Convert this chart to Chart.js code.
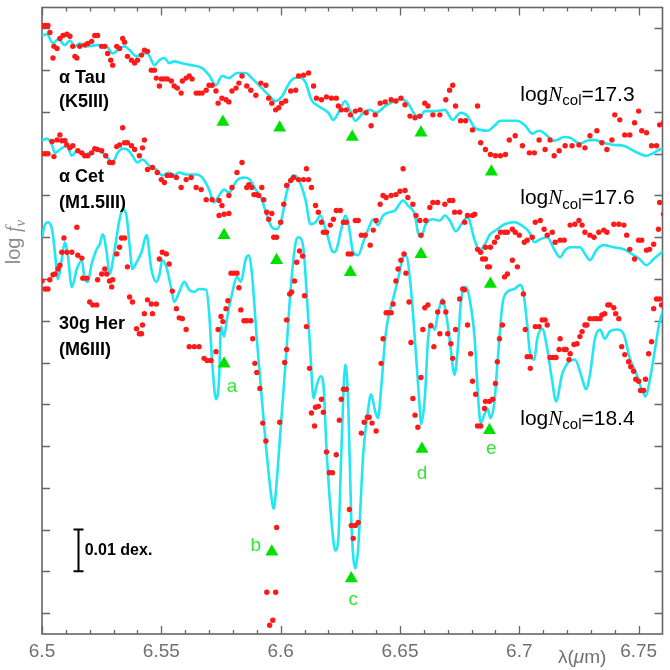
<!DOCTYPE html>
<html>
<head>
<meta charset="utf-8">
<title>6.5 - 6.76 micron spectra</title>
<script src="https://cdn.jsdelivr.net/npm/chart.js@4.4.1/dist/chart.umd.min.js"></script>
<style>
  html, body { margin: 0; padding: 0; background: #fff; }
  #wrap { width: 670px; height: 670px; }
</style>
</head>
<body>
<div id="wrap"><canvas id="spectra"></canvas></div>
<script>
// Axis ticks (wavelength in micron, log f_nu in dex with arbitrary zero)
const xMajorTicks = [6.5, 6.55, 6.6, 6.65, 6.7, 6.75];
const xTickLabels = ['6.5', '6.55', '6.6', '6.65', '6.7', '6.75'];
const yTicks = [0, 0.01, 0.02, 0.03, 0.04, 0.05, 0.06, 0.07, 0.08, 0.09, 0.10, 0.11, 0.12, 0.13, 0.14];

// alpha Tau : observed points and model
const tauObs = [
  [6.5000,0.1407],[6.5013,0.1407],[6.5025,0.1407],[6.5033,0.1390],[6.5046,0.1329],[6.5050,0.1357],[6.5063,0.1352],
  [6.5075,0.1376],[6.5088,0.1383],[6.5104,0.1386],[6.5117,0.1381],[6.5129,0.1357],[6.5138,0.1333],[6.5146,0.1329],
  [6.5158,0.1357],[6.5179,0.1360],[6.5192,0.1364],[6.5208,0.1369],[6.5221,0.1383],[6.5233,0.1383],[6.5250,0.1357],
  [6.5263,0.1357],[6.5275,0.1340],[6.5288,0.1324],[6.5296,0.1312],[6.5313,0.1357],[6.5325,0.1352],[6.5338,0.1376],
  [6.5346,0.1367],[6.5358,0.1333],[6.5375,0.1324],[6.5388,0.1317],[6.5400,0.1324],[6.5417,0.1336],[6.5429,0.1348],
  [6.5442,0.1345],[6.5458,0.1300],[6.5471,0.1300],[6.5479,0.1281],[6.5492,0.1262],[6.5500,0.1279],[6.5513,0.1279],
  [6.5525,0.1279],[6.5542,0.1274],[6.5554,0.1262],[6.5567,0.1257],[6.5583,0.1245],[6.5588,0.1274],[6.5604,0.1281],
  [6.5617,0.1286],[6.5629,0.1279],[6.5646,0.1245],[6.5658,0.1245],[6.5671,0.1245],[6.5688,0.1252],[6.5700,0.1264],
  [6.5713,0.1264],[6.5729,0.1250],[6.5738,0.1221],[6.5754,0.1233],[6.5771,0.1229],[6.5783,0.1224],[6.5796,0.1250],
  [6.5813,0.1257],[6.5825,0.1269],[6.5838,0.1286],[6.5858,0.1262],[6.5875,0.1252],[6.5896,0.1240],[6.5917,0.1269],
  [6.5938,0.1264],[6.5950,0.1233],[6.5963,0.1221],[6.5979,0.1205],[6.5992,0.1210],[6.6004,0.1221],[6.6021,0.1226],
  [6.6042,0.1250],[6.6063,0.1252],[6.6075,0.1286],[6.6096,0.1288],[6.6117,0.1293],[6.6138,0.1262],[6.6150,0.1233],
  [6.6171,0.1229],[6.6192,0.1236],[6.6213,0.1233],[6.6233,0.1233],[6.6242,0.1214],[6.6254,0.1205],[6.6275,0.1205],
  [6.6292,0.1193],[6.6313,0.1202],[6.6333,0.1205],[6.6358,0.1198],[6.6379,0.1167],[6.6396,0.1193],[6.6417,0.1221],
  [6.6438,0.1224],[6.6463,0.1229],[6.6483,0.1226],[6.6504,0.1233],[6.6521,0.1217],[6.6542,0.1190],[6.6563,0.1186],
  [6.6583,0.1190],[6.6604,0.1221],[6.6617,0.1214],[6.6638,0.1193],[6.6667,0.1193],[6.6692,0.1229],[6.6708,0.1252],
  [6.6721,0.1264],[6.6733,0.1214],[6.6754,0.1179],[6.6775,0.1179],[6.6804,0.1157],[6.6825,0.1214],[6.6838,0.1126],
  [6.6858,0.1110],[6.6879,0.1098],[6.6900,0.1095],[6.6921,0.1095],[6.6942,0.1098],[6.6958,0.1133],[6.6983,0.1143],
  [6.7013,0.1119],[6.7042,0.1102],[6.7063,0.1102],[6.7083,0.1133],[6.7108,0.1110],[6.7129,0.1133],[6.7146,0.1095],
  [6.7167,0.1107],[6.7192,0.1119],[6.7221,0.1119],[6.7250,0.1121],[6.7275,0.1114],[6.7296,0.1143],[6.7325,0.1155],
  [6.7346,0.1126],[6.7367,0.1110],[6.7388,0.1133],[6.7400,0.1193],[6.7421,0.1181],[6.7442,0.1145],[6.7463,0.1145],
  [6.7483,0.1174],[6.7500,0.1202],[6.7513,0.1155],[6.7533,0.1150],[6.7554,0.1119],[6.7575,0.1119],[6.7588,0.1169],
  [6.7604,0.1174]
];
const tauModel = [
  [6.5000,0.1383],[6.5021,0.1386],[6.5046,0.1364],[6.5067,0.1374],[6.5096,0.1360],[6.5117,0.1371],[6.5138,0.1357],
  [6.5158,0.1364],[6.5188,0.1357],[6.5229,0.1360],[6.5271,0.1357],[6.5296,0.1340],[6.5317,0.1348],[6.5346,0.1357],
  [6.5367,0.1348],[6.5396,0.1333],[6.5421,0.1340],[6.5442,0.1340],[6.5471,0.1312],[6.5492,0.1324],[6.5513,0.1329],
  [6.5533,0.1317],[6.5554,0.1321],[6.5583,0.1317],[6.5625,0.1312],[6.5671,0.1305],[6.5700,0.1288],[6.5729,0.1264],
  [6.5754,0.1286],[6.5783,0.1281],[6.5817,0.1293],[6.5854,0.1293],[6.5879,0.1281],[6.5921,0.1257],[6.5950,0.1240],
  [6.5979,0.1226],[6.6004,0.1236],[6.6042,0.1274],[6.6075,0.1283],[6.6104,0.1271],[6.6129,0.1229],[6.6158,0.1214],
  [6.6200,0.1198],[6.6221,0.1181],[6.6242,0.1198],[6.6271,0.1226],[6.6292,0.1202],[6.6313,0.1179],[6.6346,0.1198],
  [6.6375,0.1205],[6.6400,0.1198],[6.6438,0.1214],[6.6479,0.1226],[6.6504,0.1231],[6.6533,0.1221],[6.6563,0.1193],
  [6.6583,0.1186],[6.6604,0.1202],[6.6646,0.1202],[6.6688,0.1205],[6.6721,0.1181],[6.6754,0.1198],[6.6783,0.1190],
  [6.6813,0.1162],[6.6838,0.1157],[6.6867,0.1155],[6.6896,0.1167],[6.6921,0.1179],[6.6950,0.1179],[6.6992,0.1179],
  [6.7025,0.1167],[6.7054,0.1148],[6.7083,0.1155],[6.7117,0.1143],[6.7138,0.1131],[6.7158,0.1133],[6.7188,0.1140],
  [6.7213,0.1138],[6.7254,0.1124],[6.7283,0.1131],[6.7313,0.1133],[6.7354,0.1126],[6.7396,0.1121],[6.7438,0.1119],
  [6.7479,0.1107],[6.7533,0.1095],[6.7563,0.1102],[6.7588,0.1110],[6.7604,0.1112]
];
const tauMarks = [[6.5758,0.1176],[6.5996,0.1162],[6.6300,0.1140],[6.6588,0.1150],[6.6883,0.1057]];

// alpha Cet : observed points and model
const cetObs = [
  [6.5000,0.1100],[6.5013,0.1100],[6.5025,0.1100],[6.5042,0.1129],[6.5050,0.1093],[6.5063,0.1133],[6.5075,0.1145],
  [6.5083,0.1131],[6.5096,0.1131],[6.5104,0.1121],[6.5117,0.1114],[6.5129,0.1119],[6.5150,0.1107],[6.5167,0.1102],
  [6.5179,0.1095],[6.5192,0.1095],[6.5208,0.1102],[6.5221,0.1112],[6.5233,0.1110],[6.5250,0.1107],[6.5267,0.1095],
  [6.5283,0.1079],[6.5296,0.1079],[6.5313,0.1117],[6.5325,0.1121],[6.5338,0.1162],[6.5346,0.1126],[6.5358,0.1126],
  [6.5375,0.1119],[6.5388,0.1110],[6.5408,0.1095],[6.5421,0.1114],[6.5429,0.1133],[6.5442,0.1062],[6.5463,0.1067],
  [6.5483,0.1055],[6.5500,0.1038],[6.5513,0.1031],[6.5525,0.1048],[6.5542,0.1048],[6.5563,0.1043],[6.5583,0.1019],
  [6.5604,0.1038],[6.5625,0.1043],[6.5646,0.1019],[6.5667,0.1014],[6.5688,0.0990],[6.5713,0.0990],[6.5742,0.0988],
  [6.5742,0.0952],[6.5754,0.0976],[6.5763,0.0955],[6.5783,0.1000],[6.5783,0.0957],[6.5796,0.1019],[6.5817,0.1055],
  [6.5838,0.1079],[6.5858,0.1019],[6.5867,0.1026],[6.5879,0.1019],[6.5888,0.1002],[6.5900,0.1002],[6.5908,0.1000],
  [6.5921,0.1019],[6.5929,0.0990],[6.5942,0.0960],[6.5950,0.0943],[6.5963,0.0957],[6.5971,0.0900],[6.5983,0.0900],
  [6.6000,0.0936],[6.6013,0.0979],[6.6025,0.1024],[6.6042,0.1036],[6.6054,0.1043],[6.6075,0.1038],[6.6096,0.1038],
  [6.6108,0.1064],[6.6117,0.1038],[6.6129,0.1019],[6.6146,0.0976],[6.6158,0.0960],[6.6171,0.0936],[6.6179,0.0912],
  [6.6192,0.0912],[6.6208,0.0929],[6.6221,0.0943],[6.6233,0.0964],[6.6250,0.0964],[6.6263,0.0936],[6.6275,0.0936],
  [6.6283,0.0860],[6.6296,0.0860],[6.6313,0.0940],[6.6325,0.0940],[6.6338,0.0905],[6.6354,0.0905],[6.6375,0.0881],
  [6.6388,0.0917],[6.6400,0.0940],[6.6417,0.0979],[6.6429,0.1000],[6.6442,0.0995],[6.6463,0.1000],[6.6483,0.1002],
  [6.6500,0.1010],[6.6513,0.1064],[6.6521,0.1012],[6.6533,0.0995],[6.6554,0.0979],[6.6567,0.0952],[6.6583,0.0940],
  [6.6588,0.0905],[6.6608,0.0940],[6.6625,0.0971],[6.6638,0.0983],[6.6658,0.0983],[6.6688,0.0979],[6.6708,0.0988],
  [6.6721,0.0988],[6.6729,0.0960],[6.6750,0.0960],[6.6771,0.0936],[6.6783,0.0952],[6.6804,0.0952],[6.6813,0.0955],
  [6.6825,0.0871],[6.6838,0.0864],[6.6846,0.0848],[6.6858,0.0848],[6.6858,0.0876],[6.6867,0.0829],[6.6875,0.0829],
  [6.6879,0.0876],[6.6896,0.0888],[6.6908,0.0900],[6.6921,0.0912],[6.6938,0.0805],[6.6938,0.0912],[6.6950,0.0812],
  [6.6950,0.0912],[6.6971,0.0845],[6.6971,0.0919],[6.6983,0.0912],[6.6992,0.0829],[6.7000,0.0905],[6.7021,0.0888],
  [6.7033,0.0893],[6.7054,0.0900],[6.7067,0.0936],[6.7088,0.0940],[6.7104,0.0919],[6.7117,0.0905],[6.7138,0.0912],
  [6.7150,0.0888],[6.7171,0.0893],[6.7188,0.0893],[6.7213,0.0929],[6.7233,0.0931],[6.7250,0.0940],[6.7263,0.0929],
  [6.7275,0.0912],[6.7296,0.0905],[6.7313,0.0900],[6.7333,0.0912],[6.7354,0.0917],[6.7367,0.0912],[6.7396,0.0931],
  [6.7417,0.0931],[6.7438,0.0929],[6.7450,0.0905],[6.7463,0.0871],[6.7483,0.0848],[6.7500,0.0893],[6.7513,0.0893],
  [6.7533,0.0869],[6.7546,0.0871],[6.7563,0.0883],[6.7583,0.0919],[6.7588,0.0983],[6.7604,0.0955]
];
const cetModel = [
  [6.5000,0.1131],[6.5021,0.1136],[6.5042,0.1121],[6.5054,0.1102],[6.5075,0.1110],[6.5104,0.1119],[6.5125,0.1095],
  [6.5146,0.1107],[6.5171,0.1098],[6.5200,0.1102],[6.5229,0.1110],[6.5254,0.1102],[6.5275,0.1090],[6.5296,0.1079],
  [6.5317,0.1102],[6.5338,0.1112],[6.5358,0.1110],[6.5379,0.1095],[6.5400,0.1079],[6.5421,0.1086],[6.5450,0.1071],
  [6.5479,0.1062],[6.5504,0.1048],[6.5533,0.1055],[6.5554,0.1048],[6.5575,0.1055],[6.5604,0.1050],[6.5646,0.1050],
  [6.5671,0.1043],[6.5700,0.1014],[6.5721,0.0983],[6.5742,0.1000],[6.5763,0.1014],[6.5783,0.1007],[6.5817,0.1036],
  [6.5846,0.1043],[6.5867,0.1040],[6.5896,0.1014],[6.5921,0.0990],[6.5938,0.0960],[6.5963,0.0924],[6.5983,0.0919],
  [6.6004,0.0943],[6.6025,0.1007],[6.6054,0.1048],[6.6075,0.1038],[6.6104,0.0990],[6.6125,0.0931],[6.6146,0.0936],
  [6.6167,0.0952],[6.6192,0.0912],[6.6221,0.0864],[6.6233,0.0869],[6.6254,0.0919],[6.6271,0.0952],[6.6283,0.0936],
  [6.6304,0.0864],[6.6325,0.0857],[6.6346,0.0888],[6.6367,0.0919],[6.6388,0.0943],[6.6408,0.0929],[6.6429,0.0952],
  [6.6458,0.0960],[6.6479,0.0964],[6.6513,0.0988],[6.6533,0.0976],[6.6563,0.0952],[6.6575,0.0912],[6.6588,0.0900],
  [6.6608,0.0931],[6.6638,0.0943],[6.6667,0.0940],[6.6688,0.0952],[6.6713,0.0936],[6.6733,0.0914],[6.6763,0.0936],
  [6.6783,0.0948],[6.6813,0.0893],[6.6833,0.0869],[6.6854,0.0881],[6.6875,0.0905],[6.6908,0.0919],[6.6938,0.0931],
  [6.6979,0.0936],[6.7021,0.0924],[6.7042,0.0912],[6.7063,0.0888],[6.7088,0.0895],[6.7117,0.0900],[6.7146,0.0871],
  [6.7171,0.0852],[6.7192,0.0869],[6.7213,0.0876],[6.7254,0.0876],[6.7275,0.0860],[6.7296,0.0845],[6.7325,0.0871],
  [6.7354,0.0881],[6.7396,0.0876],[6.7438,0.0871],[6.7471,0.0860],[6.7504,0.0848],[6.7533,0.0833],[6.7563,0.0848],
  [6.7588,0.0860],[6.7604,0.0867]
];
const cetMarks = [[6.5763,0.0905],[6.5983,0.0845],[6.6292,0.0816],[6.6588,0.0859],[6.6879,0.0788]];

// 30g Her : observed points and model
const herObs = [
  [6.5000,0.0795],[6.5013,0.0776],[6.5025,0.0776],[6.5033,0.0798],[6.5046,0.0810],[6.5054,0.0812],[6.5067,0.0824],
  [6.5075,0.0833],[6.5083,0.0864],[6.5092,0.0898],[6.5104,0.0864],[6.5125,0.0864],[6.5146,0.0924],[6.5150,0.0857],
  [6.5167,0.0850],[6.5171,0.0802],[6.5188,0.0802],[6.5200,0.0745],[6.5213,0.0738],[6.5229,0.0738],[6.5233,0.0798],
  [6.5250,0.0812],[6.5263,0.0824],[6.5271,0.0812],[6.5283,0.0795],[6.5292,0.0781],[6.5296,0.0798],[6.5313,0.0860],
  [6.5325,0.0876],[6.5333,0.0898],[6.5346,0.0898],[6.5358,0.0829],[6.5367,0.0757],[6.5379,0.0745],[6.5396,0.0681],
  [6.5408,0.0669],[6.5417,0.0669],[6.5421,0.0690],[6.5429,0.0717],[6.5442,0.0750],[6.5458,0.0740],[6.5463,0.0717],
  [6.5479,0.0740],[6.5492,0.0848],[6.5504,0.0864],[6.5521,0.0860],[6.5533,0.0836],[6.5546,0.0771],[6.5563,0.0729],
  [6.5575,0.0707],[6.5588,0.0705],[6.5604,0.0679],[6.5617,0.0638],[6.5638,0.0638],[6.5658,0.0638],[6.5679,0.0610],
  [6.5692,0.0605],[6.5708,0.0605],[6.5729,0.0626],[6.5738,0.0679],[6.5750,0.0710],[6.5758,0.0698],[6.5771,0.0729],
  [6.5779,0.0748],[6.5792,0.0814],[6.5804,0.0814],[6.5817,0.0814],[6.5825,0.0779],[6.5833,0.0726],[6.5846,0.0700],
  [6.5858,0.0700],[6.5875,0.0700],[6.5883,0.0657],[6.5892,0.0598],[6.5900,0.0576],[6.5913,0.0538],[6.5925,0.0455],
  [6.5938,0.0412],[6.5942,0.0050],[6.5954,-0.0029],[6.5967,-0.0017],[6.5979,0.0050],[6.5983,0.0205],[6.5996,0.0457],
  [6.6017,0.0600],[6.6025,0.0631],[6.6025,0.0702],[6.6038,0.0764],[6.6046,0.0769],[6.6058,0.0795],[6.6067,0.0840],
  [6.6079,0.0867],[6.6092,0.0855],[6.6100,0.0760],[6.6108,0.0686],[6.6121,0.0586],[6.6129,0.0479],[6.6142,0.0448],
  [6.6146,0.0493],[6.6158,0.0495],[6.6171,0.0512],[6.6179,0.0481],[6.6192,0.0386],[6.6204,0.0336],[6.6217,0.0336],
  [6.6233,0.0379],[6.6246,0.0462],[6.6254,0.0512],[6.6263,0.0536],[6.6275,0.0536],[6.6288,0.0248],[6.6296,0.0210],
  [6.6304,0.0179],[6.6313,0.0210],[6.6325,0.0217],[6.6338,0.0431],[6.6350,0.0457],[6.6363,0.0469],[6.6371,0.0469],
  [6.6383,0.0455],[6.6400,0.0436],[6.6421,0.0598],[6.6429,0.0657],[6.6442,0.0719],[6.6450,0.0719],[6.6463,0.0719],
  [6.6471,0.0740],[6.6483,0.0795],[6.6492,0.0824],[6.6504,0.0845],[6.6517,0.0860],[6.6525,0.0814],[6.6538,0.0745],
  [6.6546,0.0648],[6.6554,0.0514],[6.6563,0.0474],[6.6575,0.0445],[6.6588,0.0564],[6.6596,0.0679],[6.6604,0.0731],
  [6.6617,0.0738],[6.6629,0.0688],[6.6642,0.0638],[6.6658,0.0721],[6.6667,0.0669],[6.6679,0.0745],[6.6692,0.0721],
  [6.6700,0.0669],[6.6713,0.0645],[6.6721,0.0610],[6.6733,0.0679],[6.6750,0.0752],[6.6763,0.0776],[6.6771,0.0774],
  [6.6783,0.0690],[6.6796,0.0621],[6.6804,0.0555],[6.6817,0.0524],[6.6825,0.0448],[6.6838,0.0448],[6.6854,0.0490],
  [6.6858,0.0507],[6.6875,0.0507],[6.6888,0.0512],[6.6900,0.0550],[6.6908,0.0602],[6.6917,0.0657],[6.6929,0.0690],
  [6.7017,0.0764],[6.7025,0.0679],[6.7033,0.0614],[6.7046,0.0614],[6.7046,0.0586],[6.7067,0.0686],[6.7083,0.0686],
  [6.7096,0.0702],[6.7108,0.0702],[6.7117,0.0690],[6.7129,0.0612],[6.7142,0.0612],[6.7154,0.0612],[6.7167,0.0631],
  [6.7171,0.0657],[6.7188,0.0631],[6.7196,0.0631],[6.7208,0.0607],[6.7213,0.0621],[6.7229,0.0643],[6.7242,0.0645],
  [6.7254,0.0662],[6.7263,0.0674],[6.7275,0.0690],[6.7283,0.0690],[6.7296,0.0705],[6.7313,0.0705],[6.7325,0.0705],
  [6.7338,0.0705],[6.7346,0.0714],[6.7358,0.0717],[6.7371,0.0738],[6.7379,0.0738],[6.7396,0.0731],[6.7404,0.0717],
  [6.7417,0.0705],[6.7429,0.0638],[6.7442,0.0619],[6.7458,0.0602],[6.7467,0.0590],[6.7479,0.0579],[6.7488,0.0560],
  [6.7500,0.0555],[6.7508,0.0533],[6.7521,0.0533],[6.7529,0.0560],[6.7542,0.0621],[6.7554,0.0650],[6.7563,0.0729],
  [6.7575,0.0752],[6.7588,0.0752],[6.7596,0.0738]
];
const herModel = [
  [6.5000,0.0900],[6.5013,0.0931],[6.5025,0.0936],[6.5042,0.0919],[6.5054,0.0864],[6.5067,0.0800],[6.5083,0.0848],
  [6.5096,0.0888],[6.5108,0.0857],[6.5125,0.0781],[6.5146,0.0824],[6.5167,0.0845],[6.5179,0.0800],[6.5192,0.0793],
  [6.5208,0.0836],[6.5229,0.0871],[6.5242,0.0883],[6.5254,0.0907],[6.5271,0.0864],[6.5283,0.0812],[6.5304,0.0869],
  [6.5325,0.0943],[6.5338,0.0967],[6.5354,0.0952],[6.5367,0.0881],[6.5379,0.0824],[6.5396,0.0840],[6.5417,0.0864],
  [6.5438,0.0905],[6.5458,0.0824],[6.5479,0.0793],[6.5492,0.0810],[6.5504,0.0845],[6.5521,0.0829],[6.5542,0.0776],
  [6.5554,0.0745],[6.5575,0.0769],[6.5596,0.0793],[6.5617,0.0774],[6.5638,0.0769],[6.5658,0.0776],[6.5688,0.0774],
  [6.5700,0.0721],[6.5713,0.0602],[6.5729,0.0512],[6.5742,0.0560],[6.5750,0.0686],[6.5763,0.0662],[6.5775,0.0705],
  [6.5796,0.0764],[6.5817,0.0805],[6.5833,0.0793],[6.5854,0.0848],[6.5867,0.0857],[6.5879,0.0817],[6.5900,0.0657],
  [6.5929,0.0460],[6.5958,0.0293],[6.5971,0.0250],[6.5983,0.0312],[6.6000,0.0443],[6.6021,0.0602],[6.6042,0.0776],
  [6.6063,0.0888],[6.6075,0.0900],[6.6096,0.0871],[6.6108,0.0776],[6.6125,0.0619],[6.6138,0.0514],[6.6150,0.0543],
  [6.6167,0.0567],[6.6179,0.0548],[6.6192,0.0395],[6.6213,0.0221],[6.6229,0.0150],[6.6242,0.0181],[6.6254,0.0381],
  [6.6271,0.0595],[6.6283,0.0507],[6.6296,0.0221],[6.6313,0.0107],[6.6325,0.0157],[6.6346,0.0381],[6.6367,0.0490],
  [6.6379,0.0524],[6.6396,0.0483],[6.6408,0.0467],[6.6421,0.0538],[6.6438,0.0657],[6.6450,0.0705],[6.6471,0.0752],
  [6.6492,0.0800],[6.6513,0.0852],[6.6525,0.0857],[6.6546,0.0776],[6.6567,0.0619],[6.6583,0.0490],[6.6588,0.0452],
  [6.6604,0.0514],[6.6617,0.0650],[6.6629,0.0693],[6.6646,0.0679],[6.6658,0.0714],[6.6679,0.0752],[6.6692,0.0721],
  [6.6708,0.0657],[6.6729,0.0571],[6.6742,0.0633],[6.6754,0.0738],[6.6775,0.0781],[6.6792,0.0752],[6.6813,0.0657],
  [6.6825,0.0538],[6.6838,0.0455],[6.6854,0.0476],[6.6867,0.0490],[6.6879,0.0467],[6.6896,0.0507],[6.6908,0.0595],
  [6.6929,0.0738],[6.6950,0.0769],[6.6979,0.0776],[6.7004,0.0786],[6.7017,0.0769],[6.7033,0.0690],[6.7046,0.0619],
  [6.7063,0.0607],[6.7075,0.0657],[6.7096,0.0681],[6.7117,0.0633],[6.7138,0.0555],[6.7154,0.0507],[6.7179,0.0571],
  [6.7208,0.0602],[6.7233,0.0607],[6.7263,0.0562],[6.7279,0.0536],[6.7296,0.0571],[6.7317,0.0657],[6.7338,0.0679],
  [6.7358,0.0657],[6.7379,0.0674],[6.7408,0.0679],[6.7438,0.0667],[6.7463,0.0610],[6.7492,0.0571],[6.7513,0.0536],
  [6.7529,0.0519],[6.7546,0.0555],[6.7567,0.0626],[6.7588,0.0698],[6.7604,0.0726]
];
const herMarks = [[6.5763,0.0597],[6.5963,0.0147],[6.6296,0.0083],[6.6592,0.0393],[6.6875,0.0438]];

// line identifications under the 30g Her spectrum
const lineLetters = ['a', 'b', 'c', 'd', 'e'];
const letterPos = [[6.5796,0.0543],[6.5896,0.0162],[6.6304,0.0031],[6.6592,0.0333],[6.6883,0.0393]];

// star names, spectral types and fitted column densities
const starNames = ['\u03B1 Tau', '\u03B1 Cet', '30g Her'];
const spectralTypes = ['(K5III)', '(M1.5III)', '(M6III)'];
const nameY = [0.1281, 0.1043, 0.0693];
const typeY = [0.1224, 0.0983, 0.0631];
const logNcol = ['17.3', '17.6', '18.4'];
const logNY = [0.1240, 0.0993, 0.0464];

const toXY = arr => arr.map(p => ({ x: p[0], y: p[1] }));

const RED = '#ff1a1a';
const CYAN = '#22e6f2';
const GREEN = '#00e000';

function obsSet(arr) {
    return { type: 'scatter', data: toXY(arr), pointRadius: 2.7, pointBackgroundColor: RED,
             pointBorderWidth: 0, showLine: false, order: 1 };
}
function modelSet(arr) {
    return { type: 'line', data: toXY(arr), borderColor: CYAN, borderWidth: 2.6, pointRadius: 0,
             cubicInterpolationMode: 'monotone', fill: false, order: 2 };
}
function markSet(arr) {
    return { type: 'scatter', data: toXY(arr), pointStyle: 'triangle', pointRadius: 7.5,
             pointBackgroundColor: GREEN, pointBorderWidth: 0, order: 0 };
}

// draw a run of text pieces [text, font, dy] starting at x
function drawPieces(ctx, pieces, x, y) {
    let cx = x;
    pieces.forEach(([t, f, dy]) => {
        ctx.font = f;
        ctx.fillText(t, cx, y + (dy || 0));
        cx += ctx.measureText(t).width;
    });
    return cx;
}
function piecesWidth(ctx, pieces) {
    let w = 0;
    pieces.forEach(([t, f]) => { ctx.font = f; w += ctx.measureText(t).width; });
    return w;
}

const SANS = '"Liberation Sans", Arial, sans-serif';

const frameAndText = {
    id: 'frameAndText',
    beforeDatasetsDraw(chart) {
        const { ctx, chartArea: a, scales: { x, y } } = chart;
        ctx.save();
        ctx.strokeStyle = '#666';
        ctx.lineWidth = 1.6;
        ctx.strokeRect(a.left, a.top, a.right - a.left, a.bottom - a.top);

        // inward ticks on all four sides
        ctx.lineWidth = 1.3;
        ctx.beginPath();
        for (let i = 0; i < 26; i++) {
            const px = Math.round(x.getPixelForValue(6.5 + i * 0.01)) + 0.5;
            const len = i % 5 === 0 ? 8 : 4;
            ctx.moveTo(px, a.bottom); ctx.lineTo(px, a.bottom - len);
            ctx.moveTo(px, a.top); ctx.lineTo(px, a.top + len);
        }
        yTicks.forEach(v => {
            const py = Math.round(y.getPixelForValue(v)) + 0.5;
            ctx.moveTo(a.left, py); ctx.lineTo(a.left + 8, py);
            ctx.moveTo(a.right, py); ctx.lineTo(a.right - 8, py);
        });
        ctx.stroke();

        // tick labels
        ctx.fillStyle = '#707070';
        ctx.font = '19px ' + SANS;
        ctx.textAlign = 'center';
        ctx.textBaseline = 'middle';
        xMajorTicks.forEach((v, i) => {
            ctx.fillText(xTickLabels[i], x.getPixelForValue(v), a.bottom + 18);
        });

        // x axis title
        ctx.textAlign = 'left';
        ctx.fillStyle = '#707070';
        drawPieces(ctx, [
            ['\u03BB(', '19px ' + SANS],
            ['\u03BC', 'italic 19px ' + SANS],
            ['m)', '19px ' + SANS]
        ], a.left + 516, a.bottom + 24);

        // y axis title, rotated
        ctx.save();
        ctx.fillStyle = '#8c8c8c';
        ctx.textBaseline = 'alphabetic';
        const yPieces = [
            ['log ', '20px ' + SANS],
            ['f', 'italic 20px "Liberation Serif", serif'],
            ['\u03BD', 'italic 15px "Liberation Serif", serif', 5]
        ];
        ctx.translate(20, 242);
        ctx.rotate(-Math.PI / 2);
        drawPieces(ctx, yPieces, -piecesWidth(ctx, yPieces) / 2, 0);
        ctx.restore();
        ctx.restore();
    },
    afterDatasetsDraw(chart) {
        const { ctx, scales: { x, y } } = chart;
        ctx.save();
        ctx.textAlign = 'left';
        ctx.textBaseline = 'middle';

        // star names and spectral types
        ctx.fillStyle = '#000';
        ctx.font = 'bold 18px ' + SANS;
        const nameX = x.getPixelForValue(6.5071);
        starNames.forEach((n, i) => {
            ctx.fillText(n, nameX, y.getPixelForValue(nameY[i]));
            ctx.fillText(spectralTypes[i], nameX, y.getPixelForValue(typeY[i]));
        });

        // column densities
        const nx = x.getPixelForValue(6.7004);
        logNcol.forEach((v, i) => {
            drawPieces(ctx, [
                ['log', '21px ' + SANS],
                ['N', 'italic 21px "Liberation Serif", serif'],
                ['col', '15px ' + SANS, 6],
                ['=' + v, '21px ' + SANS]
            ], nx, y.getPixelForValue(logNY[i]));
        });

        // line letters
        ctx.fillStyle = '#33e633';
        ctx.font = '19px ' + SANS;
        ctx.textAlign = 'center';
        lineLetters.forEach((l, i) => {
            ctx.fillText(l, x.getPixelForValue(letterPos[i][0]), y.getPixelForValue(letterPos[i][1]));
        });

        // 0.01 dex scale bar
        const bx = Math.round(x.getPixelForValue(6.5150)) + 0.5;
        const b0 = y.getPixelForValue(0.01);
        const b1 = y.getPixelForValue(0.02);
        ctx.strokeStyle = '#000';
        ctx.lineWidth = 2;
        ctx.beginPath();
        ctx.moveTo(bx, b0); ctx.lineTo(bx, b1);
        ctx.moveTo(bx - 5, b0); ctx.lineTo(bx + 5, b0);
        ctx.moveTo(bx - 5, b1); ctx.lineTo(bx + 5, b1);
        ctx.stroke();
        ctx.fillStyle = '#000';
        ctx.font = 'bold 16px ' + SANS;
        ctx.textAlign = 'left';
        ctx.fillText('0.01 dex.', x.getPixelForValue(6.5179), y.getPixelForValue(0.0150));
        ctx.restore();
    }
};

const whiteBg = {
    id: 'whiteBg',
    beforeDraw(chart) {
        const { ctx, width, height } = chart;
        ctx.save();
        ctx.fillStyle = '#fff';
        ctx.fillRect(0, 0, width, height);
        ctx.restore();
    }
};

new Chart(document.getElementById('spectra'), {
    type: 'scatter',
    data: {
        datasets: [
            markSet(tauMarks), markSet(cetMarks), markSet(herMarks),
            obsSet(tauObs), obsSet(cetObs), obsSet(herObs),
            modelSet(tauModel), modelSet(cetModel), modelSet(herModel)
        ]
    },
    options: {
        responsive: true,
        maintainAspectRatio: false,
        animation: false,
        events: [],
        layout: { padding: { left: 42, right: 4, top: 4, bottom: 36 } },
        scales: {
            x: { type: 'linear', min: 6.5, max: 6.76, display: false },
            y: { type: 'linear', min: -0.005, max: 0.145, display: false }
        },
        plugins: { legend: { display: false }, tooltip: { enabled: false } }
    },
    plugins: [whiteBg, frameAndText]
});
</script>
</body>
</html>
